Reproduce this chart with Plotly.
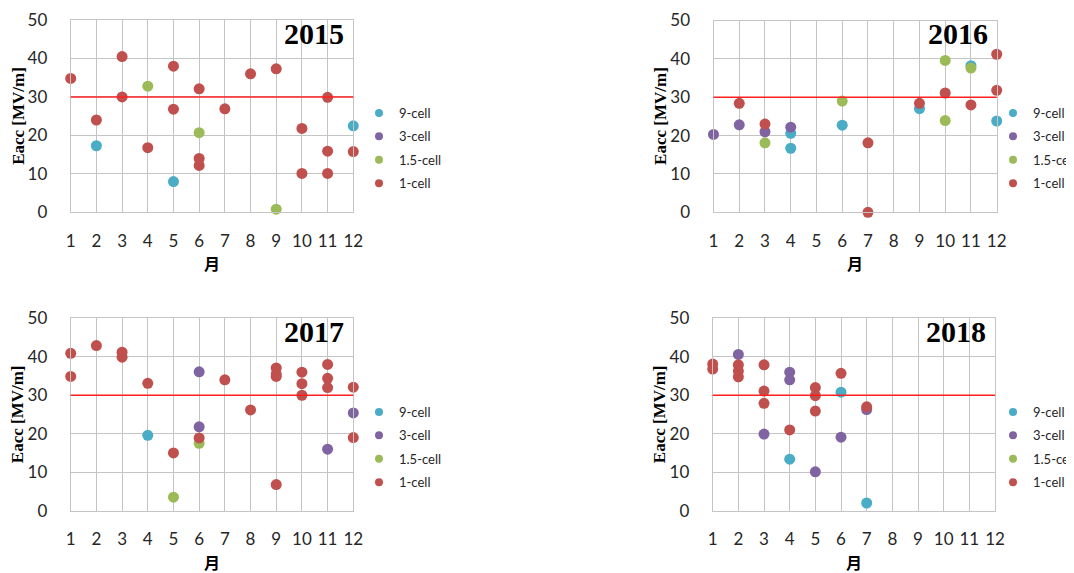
import plotly.graph_objects as go

# ---------------- data (month, Eacc [MV/m]) ----------------
months_axis = [1, 2, 3, 4, 5, 6, 7, 8, 9, 10, 11, 12]
y_ticks = [0, 10, 20, 30, 40, 50]
threshold = 30
series_names = ["9-cell", "3-cell", "1.5-cell", "1-cell"]
series_colors = ["#4BACC6", "#8064A2", "#9BBB59", "#C0504D"]
years = ["2015", "2016", "2017", "2018"]

# 2015
m2015_9 = [2, 5, 12]
e2015_9 = [17.3, 8.0, 22.5]
m2015_3 = []
e2015_3 = []
m2015_15 = [4, 6, 9]
e2015_15 = [32.8, 20.7, 0.8]
m2015_1 = [1, 2, 3, 3, 4, 5, 5, 6, 6, 6, 7, 8, 9, 10, 10, 11, 11, 11, 12]
e2015_1 = [34.8, 24.0, 40.5, 30.0, 16.8, 38.0, 26.8, 32.1, 14.0, 12.2, 26.9, 36.0, 37.3, 21.8, 10.1, 29.9, 15.9, 10.1, 15.8]

# 2016
m2016_9 = [4, 4, 6, 9, 11, 12]
e2016_9 = [20.6, 16.7, 22.7, 27.0, 38.2, 23.8]
m2016_3 = [1, 2, 3, 4]
e2016_3 = [20.3, 22.8, 21.0, 22.2]
m2016_15 = [3, 6, 10, 10, 11]
e2016_15 = [18.1, 29.0, 39.6, 23.9, 37.6]
m2016_1 = [2, 3, 7, 7, 9, 10, 11, 12, 12]
e2016_1 = [28.4, 23.0, 18.1, 0.0, 28.4, 31.1, 28.0, 41.2, 31.8]

# 2017
m2017_9 = [4]
e2017_9 = [19.6]
m2017_3 = [6, 6, 11, 12]
e2017_3 = [36.1, 21.8, 16.0, 25.4]
m2017_15 = [5, 6]
e2017_15 = [3.5, 17.5]
m2017_1 = [1, 1, 2, 3, 3, 4, 5, 6, 7, 8, 9, 9, 9, 9, 10, 10, 10, 11, 11, 11, 12, 12]
e2017_1 = [40.9, 34.9, 42.9, 41.2, 39.9, 33.1, 15.0, 18.9, 34.0, 26.2, 37.1, 35.5, 34.9, 6.8, 36.0, 33.0, 30.0, 38.0, 34.4, 32.0, 32.1, 19.0]

# 2018
m2018_9 = [4, 6, 7]
e2018_9 = [13.4, 30.8, 2.0]
m2018_3 = [2, 3, 4, 4, 5, 6, 7]
e2018_3 = [40.6, 19.9, 36.0, 34.0, 10.1, 19.1, 26.3]
m2018_15 = []
e2018_15 = []
m2018_1 = [1, 1, 2, 2, 2, 3, 3, 3, 4, 5, 5, 5, 6, 7]
e2018_1 = [38.1, 36.8, 37.9, 36.3, 34.8, 37.9, 31.1, 27.9, 21.0, 32.0, 29.9, 25.9, 35.7, 27.0]

year_data = {
    "2015": [(m2015_9, e2015_9), (m2015_3, e2015_3), (m2015_15, e2015_15), (m2015_1, e2015_1)],
    "2016": [(m2016_9, e2016_9), (m2016_3, e2016_3), (m2016_15, e2016_15), (m2016_1, e2016_1)],
    "2017": [(m2017_9, e2017_9), (m2017_3, e2017_3), (m2017_15, e2017_15), (m2017_1, e2017_1)],
    "2018": [(m2018_9, e2018_9), (m2018_3, e2018_3), (m2018_15, e2018_15), (m2018_1, e2018_1)],
}

# ---------------- layout geometry ----------------
# The page body has an 8px margin, so the figure is drawn 8px in from the window corner.
OFF = 8
W, H = 1074 - OFF, 573 - OFF
panels = {
    # x0, x1, ytop, ybottom, legend left, legend top  (window pixels)
    "2015": (70.7, 353.3, 20.0, 212.3, 359, 98),
    "2016": (713.5, 996.7, 20.5, 212.3, 993, 98),
    "2017": (70.7, 353.3, 318.3, 510.7, 359, 397),
    "2018": (712.7, 995.0, 318.3, 510.7, 993, 397),
}


def fx(px):
    return (px - OFF) / W


def fy(py):
    return 1 - (py - OFF) / H


TICK_FONT = dict(family="Lato, Carlito, Calibri, sans-serif", size=17, color="#262626")
GRID = "#c4c4c4"

fig = go.Figure()
layout = dict(
    width=W, height=H,
    margin=dict(l=0, r=0, t=0, b=0, autoexpand=False),
    paper_bgcolor="white", plot_bgcolor="white",
    showlegend=True,
    annotations=[], shapes=[],
)

for i, yr in enumerate(years):
    n = i + 1
    xa = "x" if n == 1 else f"x{n}"
    ya = "y" if n == 1 else f"y{n}"
    leg = "legend" if n == 1 else f"legend{n}"
    x0, x1, yt, yb, lx, ly = panels[yr]

    for (mx, ev), name, col in zip(year_data[yr], series_names, series_colors):
        fig.add_trace(go.Scatter(
            x=mx, y=ev, mode="markers", name=name,
            marker=dict(color=col, size=11, line=dict(width=0)),
            xaxis=xa, yaxis=ya, showlegend=False, cliponaxis=False,
            legendgroup=f"{yr}-{name}", legend=leg,
        ))
    # legend entries
    for name, col in zip(series_names, series_colors):
        fig.add_trace(go.Scatter(
            x=[None], y=[None], mode="markers", name=name,
            marker=dict(color=col, size=8),
            xaxis=xa, yaxis=ya, showlegend=True,
            legendgroup=f"{yr}-{name}", legend=leg,
        ))

    layout[f"xaxis{'' if n == 1 else n}"] = dict(
        domain=[fx(x0), fx(x1)], anchor=ya,
        range=[months_axis[0], months_axis[-1]],
        tickmode="array", tickvals=months_axis, ticktext=[str(m) for m in months_axis],
        showgrid=True, gridcolor=GRID, gridwidth=1,
        showline=True, linecolor=GRID, linewidth=1, mirror=True,
        zeroline=False, ticks="", tickfont=TICK_FONT, ticklabelstandoff=13,
        fixedrange=True, automargin=False,
    )
    layout[f"yaxis{'' if n == 1 else n}"] = dict(
        domain=[fy(yb), fy(yt)], anchor=xa,
        range=[0, 50], tickmode="array", tickvals=y_ticks,
        showgrid=True, gridcolor=GRID, gridwidth=1,
        showline=True, linecolor=GRID, linewidth=1, mirror=True,
        zeroline=False, ticks="", tickfont=TICK_FONT, ticklabelstandoff=19,
        fixedrange=True, automargin=False,
    )
    layout[leg] = dict(
        x=fx(lx), xanchor="left", y=fy(ly), yanchor="top",
        bgcolor="rgba(0,0,0,0)", borderwidth=0,
        font=dict(family="Lato, Carlito, Calibri, sans-serif", size=13, color="#262626"),
        tracegroupgap=3.5, itemwidth=30,
    )
    # threshold line
    layout["shapes"].append(dict(
        type="line", xref=f"{xa} domain", yref=ya, x0=0, x1=1, y0=threshold, y1=threshold,
        line=dict(color="#FF2020", width=1.5), layer="above",
    ))
    # year label
    layout["annotations"].append(dict(
        text=f"<b>{yr}</b>", xref=f"{xa} domain", yref=f"{ya} domain",
        x=0.975, y=0.93, xanchor="right", yanchor="middle", showarrow=False,
        font=dict(family="Liberation Serif, Times New Roman", size=30, color="black"),
    ))
    # y-axis title
    layout["annotations"].append(dict(
        text="<b>Eacc [MV/m]</b>", xref="paper", yref=f"{ya} domain",
        x=fx(x0 - 53), y=0.5, xanchor="center", yanchor="middle", textangle=-90,
        showarrow=False,
        font=dict(family="Liberation Serif, Times New Roman", size=17, color="black"),
    ))
    # x-axis title
    layout["annotations"].append(dict(
        text="<b>月</b>", xref=f"{xa} domain", yref="paper",
        x=0.5, y=fy(yb + 51), xanchor="center", yanchor="middle", showarrow=False,
        font=dict(family="Noto Sans CJK JP", size=16, color="black"),
    ))

fig.update_layout(**layout)
fig.write_html("out.html")
